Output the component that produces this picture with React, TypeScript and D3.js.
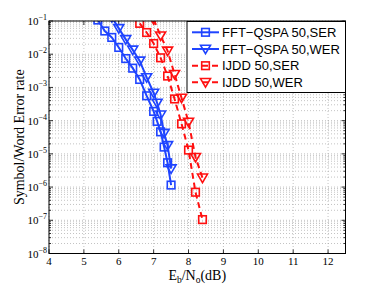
import React from "react";
import * as d3 from "d3";

const xTicks = [4, 5, 6, 7, 8, 9, 10, 11, 12];
const yTickExps = [-8, -7, -6, -5, -4, -3, -2, -1];

const fftSerX = [5.4, 5.6, 5.8, 6.0, 6.2, 6.4, 6.6, 6.8, 7.0, 7.1, 7.2, 7.3, 7.4, 7.5];
const fftSerY = [1.07e-1, 5.0e-2, 3.2e-2, 1.6e-2, 7.4e-3, 3.8e-3, 1.74e-3, 5.6e-4, 1.9e-4, 9.5e-5, 4.6e-5, 1.6e-5, 5.4e-6, 1.15e-6];

const fftWerX = [5.8, 6.0, 6.2, 6.4, 6.6, 6.8, 7.0, 7.1, 7.2, 7.3, 7.4, 7.5];
const fftWerY = [1.3e-1, 6.0e-2, 2.8e-2, 1.35e-2, 6.3e-3, 2.0e-3, 6.8e-4, 3.4e-4, 1.5e-4, 4.2e-5, 1.8e-5, 3.6e-6];

const ijddSerX = [6.6, 6.8, 7.0, 7.2, 7.4, 7.6, 7.8, 8.0, 8.2, 8.4];
const ijddSerY = [8.5e-2, 4.5e-2, 2.1e-2, 7.8e-3, 2.2e-3, 4.5e-4, 8.0e-5, 1.3e-5, 7.0e-7, 1.05e-7];

const ijddWerX = [7.0, 7.2, 7.4, 7.6, 7.8, 8.0, 8.2, 8.4];
const ijddWerY = [1.12e-1, 3.6e-2, 1.26e-2, 2.5e-3, 4.8e-4, 9.1e-5, 7.9e-6, 1.9e-6];

const legendLabels = ["FFT\u2212QSPA 50,SER", "FFT\u2212QSPA 50,WER", "IJDD 50,SER", "IJDD 50,WER"];

const BLUE = "#1f44ff";
const RED = "#ff1010";

const W = 382, H = 287;
const L = 49, R = 345.5, T = 21, B = 253.5;

export default function App() {
  const x = d3.scaleLinear().domain([4, 12.5]).range([L, R]);
  const y = d3.scaleLog().domain([1e-8, 1e-1]).range([B, T]);

  const series = [
    { xs: fftSerX, ys: fftSerY, color: BLUE, dash: "none", marker: "sq" },
    { xs: fftWerX, ys: fftWerY, color: BLUE, dash: "none", marker: "tri" },
    { xs: ijddSerX, ys: ijddSerY, color: RED, dash: "6,4", marker: "sq" },
    { xs: ijddWerX, ys: ijddWerY, color: RED, dash: "6,4", marker: "tri" },
  ];

  const line = d3.line<[number, number]>().x((d) => x(d[0])).y((d) => y(d[1]));

  const minorY: number[] = [];
  for (let e = -8; e < -1; e++) {
    for (let m = 2; m <= 9; m++) minorY.push(m * Math.pow(10, e));
  }

  const marker = (kind: string, cx: number, cy: number, color: string, key: any) => {
    if (kind === "sq") {
      return <rect key={key} x={cx - 3.8} y={cy - 3.8} width={7.6} height={7.6} fill="none" stroke={color} strokeWidth={1.6} />;
    }
    const s = 5;
    const p = `M${cx - s},${cy - s * 0.75} L${cx + s},${cy - s * 0.75} L${cx},${cy + s * 0.95} Z`;
    return <path key={key} d={p} fill="none" stroke={color} strokeWidth={1.6} />;
  };

  const legendX = 187, legendY = 21.5, legendW = 158.5, legendH = 71;
  const rowY = [32.3, 49, 65.7, 82.3];

  return (
    <svg width={W} height={H} style={{ position: "absolute", left: 0, top: 0, background: "#fff" }}>
      <defs>
        <clipPath id="plotclip">
          <rect x={L} y={T} width={R - L} height={B - T} />
        </clipPath>
      </defs>
      <rect x={L} y={T} width={R - L} height={B - T} fill="#fff" />
      {/* grid */}
      <g stroke="#9a9a9a" strokeWidth={0.6} strokeDasharray="1,2">
        {minorY.map((v, i) => (
          <line key={"my" + i} x1={L} x2={R} y1={y(v)} y2={y(v)} />
        ))}
        {yTickExps.map((e) => (
          <line key={"gy" + e} x1={L} x2={R} y1={y(Math.pow(10, e))} y2={y(Math.pow(10, e))} />
        ))}
        {xTicks.map((t) => (
          <line key={"gx" + t} x1={x(t)} x2={x(t)} y1={T} y2={B} />
        ))}
      </g>
      {/* ticks */}
      <g stroke="#000" strokeWidth={0.8}>
        {xTicks.map((t) => (
          <g key={"tx" + t}>
            <line x1={x(t)} x2={x(t)} y1={B} y2={B - 4} />
            <line x1={x(t)} x2={x(t)} y1={T} y2={T + 4} />
          </g>
        ))}
        {yTickExps.map((e) => (
          <g key={"ty" + e}>
            <line x1={L} x2={L + 4} y1={y(Math.pow(10, e))} y2={y(Math.pow(10, e))} />
            <line x1={R} x2={R - 4} y1={y(Math.pow(10, e))} y2={y(Math.pow(10, e))} />
          </g>
        ))}
        {minorY.map((v, i) => (
          <g key={"mt" + i}>
            <line x1={L} x2={L + 2} y1={y(v)} y2={y(v)} />
            <line x1={R} x2={R - 2} y1={y(v)} y2={y(v)} />
          </g>
        ))}
      </g>
      {/* data */}
      <g clipPath="url(#plotclip)">
        {series.map((s, i) => {
          const pts = s.xs.map((xv, j) => [xv, s.ys[j]] as [number, number]);
          return (
            <g key={"s" + i}>
              <path d={line(pts) || ""} fill="none" stroke={s.color} strokeWidth={2} strokeDasharray={s.dash} />
              {pts.map((p, j) => marker(s.marker, x(p[0]), y(p[1]), s.color, j))}
            </g>
          );
        })}
      </g>
      {/* axes box */}
      <rect x={L} y={T} width={R - L} height={B - T} fill="none" stroke="#000" strokeWidth={1} />
      {/* tick labels */}
      <g fontFamily="'Liberation Serif', 'Times New Roman', serif" fill="#000">
        {xTicks.map((t) => (
          <text key={"lx" + t} x={x(t)} y={B + 11.5} fontSize={11} textAnchor="middle">
            {t}
          </text>
        ))}
        {yTickExps.map((e) => (
          <text key={"ly" + e} x={L - 2} y={y(Math.pow(10, e)) + 4} fontSize={11} textAnchor="end">
            10
            <tspan fontSize={8} dy={-5}>
              {"\u2212" + Math.abs(e)}
            </tspan>
          </text>
        ))}
        <text x={(L + R) / 2} y={279.5} fontSize={14} textAnchor="middle">
          E<tspan fontSize={9.5} dy={3}>b</tspan>
          <tspan dy={-3}>/N</tspan>
          <tspan fontSize={9.5} dy={3}>o</tspan>
          <tspan dy={-3}>(dB)</tspan>
        </text>
        <text transform={`translate(24,${(T + B) / 2}) rotate(-90)`} fontSize={14} textAnchor="middle">
          Symbol/Word Error rate
        </text>
      </g>
      {/* legend */}
      <rect x={legendX} y={legendY} width={legendW} height={legendH} fill="#fff" stroke="#000" strokeWidth={1} />
      {series.map((s, i) => (
        <g key={"lg" + i}>
          <line x1={192} x2={219} y1={rowY[i]} y2={rowY[i]} stroke={s.color} strokeWidth={2} strokeDasharray={s.dash === "none" ? "none" : "6,4"} />
          {marker(s.marker, 205.5, rowY[i], s.color, "m")}
          <text x={222} y={rowY[i] + 4.6} fontSize={13} fontFamily="'Liberation Sans', Arial, sans-serif" fill="#000">
            {legendLabels[i]}
          </text>
        </g>
      ))}
    </svg>
  );
}
